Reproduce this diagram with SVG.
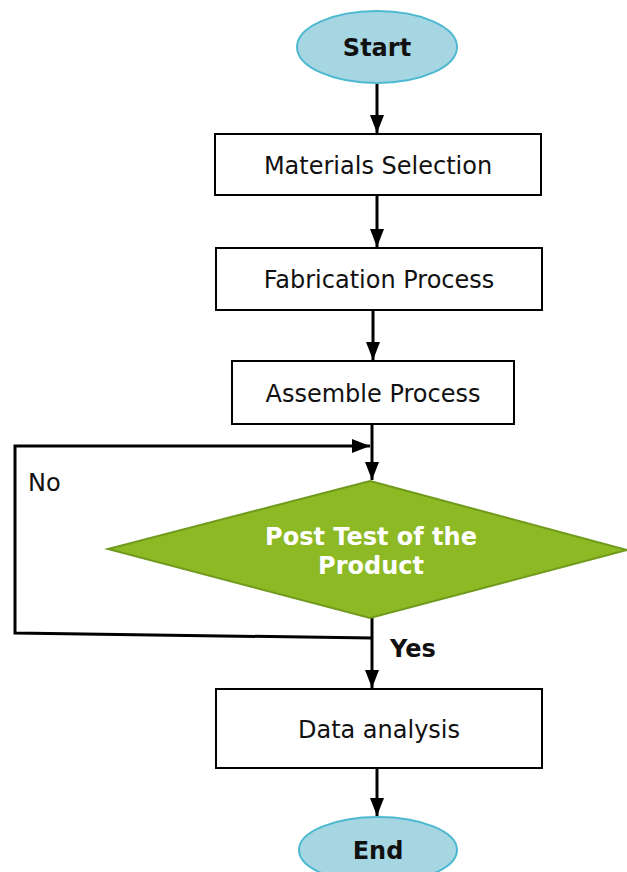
<svg xmlns="http://www.w3.org/2000/svg" width="627" height="872" viewBox="0 0 627 872">
<style>
.term{fill:#a7d6e3;stroke:#4db9d0;stroke-width:2}
.box{fill:#fff;stroke:#000;stroke-width:2}
.dia{fill:#8db924;stroke:#6f9a1c;stroke-width:2}
.t{font-family:"DejaVu Sans",Verdana,sans-serif;font-size:24px;fill:#111;text-anchor:middle}
.b{font-weight:bold;font-size:24px}
.w{fill:#fff}
.c{fill:none;stroke:#000;stroke-width:3}
</style>
<defs>
<marker id="ah2" markerWidth="18" markerHeight="14" refX="18" refY="7" orient="auto" markerUnits="userSpaceOnUse" viewBox="0 0 18 14">
<path d="M0,0 L18,7 L0,14 z" fill="#000"/>
</marker>
</defs>
<g id="connectors">
<line class="c" x1="377" y1="84" x2="377" y2="133" marker-end="url(#ah2)"/>
<line class="c" x1="377" y1="196" x2="377" y2="247" marker-end="url(#ah2)"/>
<line class="c" x1="373" y1="311" x2="373" y2="360" marker-end="url(#ah2)"/>
<line class="c" x1="372" y1="425" x2="372" y2="480" marker-end="url(#ah2)"/>
<line class="c" x1="372" y1="618" x2="372" y2="688" marker-end="url(#ah2)"/>
<line class="c" x1="377" y1="769" x2="377" y2="816" marker-end="url(#ah2)"/>
<polyline class="c" points="372,638 15,633 15,446 370,446" marker-end="url(#ah2)"/>
</g>
<g id="start">
<ellipse class="term" cx="377" cy="47" rx="80" ry="36"/>
<text class="t b" x="377" y="56">Start</text>
</g>
<g id="materials">
<rect class="box" x="215" y="134" width="326" height="61"/>
<text class="t" x="378" y="174">Materials Selection</text>
</g>
<g id="fabrication">
<rect class="box" x="216" y="248" width="326" height="62"/>
<text class="t" x="379" y="288">Fabrication Process</text>
</g>
<g id="assemble">
<rect class="box" x="232" y="361" width="282" height="63"/>
<text class="t" x="373" y="402">Assemble Process</text>
</g>
<g id="posttest">
<polygon class="dia" points="370,481 627,550 370,618 108,549"/>
<text class="t b w" x="371" y="545">Post Test of the</text>
<text class="t b w" x="371" y="574">Product</text>
</g>
<g id="labels">
<text class="t" x="28" y="491" style="text-anchor:start">No</text>
<text class="t b" x="390" y="657" style="text-anchor:start">Yes</text>
</g>
<g id="data">
<rect class="box" x="216" y="689" width="326" height="79"/>
<text class="t" x="379" y="738">Data analysis</text>
</g>
<g id="end">
<ellipse class="term" cx="378" cy="850" rx="79" ry="33"/>
<text class="t b" x="378" y="859">End</text>
</g>
</svg>
